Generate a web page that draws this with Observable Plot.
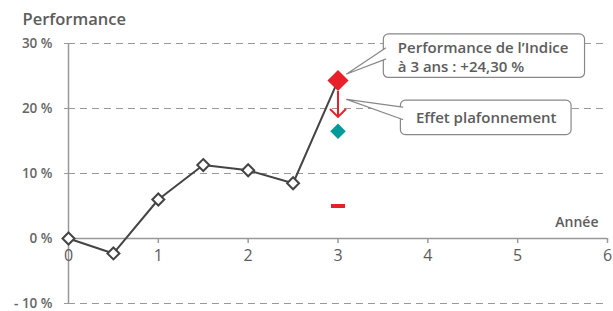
<!DOCTYPE html>
<html><head><meta charset="utf-8">
<script src="https://cdn.jsdelivr.net/npm/d3@7"></script>
<script src="https://cdn.jsdelivr.net/npm/@observablehq/plot@0.6"></script>
<style>body{margin:0;background:#fff}</style>
</head><body><div id="chart"></div>
<script>
// ---- data ----
const years = [0, 0.5, 1, 1.5, 2, 2.5, 3];
const perf = [0, -2.3, 6, 11.3, 10.5, 8.5, 24.3];
const cappedYear = 3;
const cappedValue = 16.5;
const floorValue = 5;
const arrowFrom = 22.6;
const arrowTo = 18.7;
const yTicks = [-10, 0, 10, 20, 30];
const gridTicks = [-10, 10, 20, 30];
const xTicks = [0, 1, 2, 3, 4, 5, 6];
const titleText = "Performance";
const xLabel = "Année";
const callout1Text = "Performance de l’Indice\nà 3 ans : +24,30 %";
const callout2Text = "Effet plafonnement";
// callout geometry (data units)
const box1 = {x1: 3.51, x2: 5.75, y1: 24.7, y2: 31.4};
const box2 = {x1: 3.70, x2: 5.60, y1: 15.9, y2: 21.2};
const wedge1 = [{x: 3.53, y: 29.3}, {x: 3.096, y: 25.3}, {x: 3.53, y: 27.6}];
const wedge2 = [{x: 3.72, y: 20.2}, {x: 3.096, y: 21.4}, {x: 3.72, y: 18.3}];

const series = years.map((x, i) => ({year: x, value: perf[i]}));
const red = "#e8202a", teal = "#009a9a", grey = "#999", ink = "#5c5c5c";

const diamond = {draw(ctx, size) {
  const r = Math.sqrt(size) * 0.62625;
  ctx.moveTo(0, -r); ctx.lineTo(r, 0); ctx.lineTo(0, r); ctx.lineTo(-r, 0); ctx.closePath();
}};
const chevron = {draw(ctx, size) {
  const s = Math.sqrt(size) * 0.6;
  ctx.moveTo(-s, -s); ctx.lineTo(0, 0); ctx.lineTo(s, -s);
}};
const dash = {draw(ctx) { ctx.rect(-7, -2, 14, 4); }};

const fmt = d => d < 0 ? `- ${-d} %` : `${d} %`;

const chart = Plot.plot({
  width: 613, height: 311,
  marginLeft: 68, marginRight: 6, marginTop: 43, marginBottom: 8,
  x: {domain: [0, 6], axis: null},
  y: {domain: [-10, 30]},
  style: {fontFamily: "'Open Sans', sans-serif", color: ink, background: "white", overflow: "visible"},
  marks: [
    Plot.ruleY(gridTicks, {stroke: grey, strokeDasharray: "7,5", strokeWidth: 1.2}),
    Plot.axisY(yTicks, {tickSize: 4, tickPadding: 12, tickFormat: fmt, fontSize: 13.5, stroke: grey, fill: "#666", fontWeight: 600}),
    Plot.ruleX([0], {stroke: grey, strokeWidth: 1.5}),
    Plot.ruleY([0], {stroke: grey, strokeWidth: 1.5}),
    Plot.ruleX(xTicks, {x: d => d, y1: 0, y2: 0, insetBottom: -5, stroke: grey, strokeWidth: 1.5}),
    Plot.text(xTicks, {x: d => d, y: 0, dy: 17, text: d => String(d), fontSize: 16, fill: ink, fontWeight: 500}),
    Plot.text([xLabel], {x: 6, y: 0, dx: -9, dy: -16, text: d => d, textAnchor: "end", fontSize: 14, fill: ink, fontWeight: 600}),
    Plot.text([titleText], {frameAnchor: "top-left", dx: -46, dy: -24, text: d => d, textAnchor: "start", lineAnchor: "middle", fontSize: 16.5, fill: ink, fontWeight: 600}),
    Plot.line(series, {x: "year", y: "value", stroke: "#444", strokeWidth: 2}),
    // callouts
    Plot.rect([box1], {x1: "x1", x2: "x2", y1: "y1", y2: "y2", rx: 5, fill: "white", stroke: "#888", strokeWidth: 1.2}),
    Plot.line(wedge1, {x: "x", y: "y", fill: "white", stroke: "#888", strokeWidth: 1.2, curve: "linear"}),
    Plot.text([box1], {x: "x1", y: d => (d.y1 + d.y2) / 2, dx: 14, text: () => callout1Text, textAnchor: "start", lineAnchor: "middle", lineHeight: 1.3, fontSize: 15, fill: ink, fontWeight: 600}),
    Plot.rect([box2], {x1: "x1", x2: "x2", y1: "y1", y2: "y2", rx: 5, fill: "white", stroke: "#888", strokeWidth: 1.2}),
    Plot.line(wedge2, {x: "x", y: "y", fill: "white", stroke: "#888", strokeWidth: 1.2}),
    Plot.text([box2], {x: d => (d.x1 + d.x2) / 2, y: d => (d.y1 + d.y2) / 2, text: () => callout2Text, textAnchor: "middle", lineAnchor: "middle", fontSize: 15, fill: ink, fontWeight: 600}),
    // markers
    Plot.dot(series.slice(0, -1), {x: "year", y: "value", symbol: diamond, r: 5.4, fill: "white", stroke: "#444", strokeWidth: 2}),
    Plot.dot(series.slice(-1), {x: "year", y: "value", symbol: diamond, r: 9.5, fill: red, stroke: "none"}),
    Plot.ruleX([cappedYear], {x: d => d, y1: arrowFrom, y2: arrowTo, stroke: red, strokeWidth: 2}),
    Plot.dot([cappedYear], {x: d => d, y: arrowTo, symbol: chevron, r: 7.5, fill: "none", stroke: red, strokeWidth: 2}),
    Plot.dot([cappedValue], {x: cappedYear, y: d => d, symbol: diamond, r: 7, fill: teal, stroke: "none"}),
    Plot.dot([floorValue], {x: cappedYear, y: d => d, symbol: dash, fill: red, stroke: "none"})
  ]
});
document.getElementById("chart").append(chart);
</script>
</body></html>
